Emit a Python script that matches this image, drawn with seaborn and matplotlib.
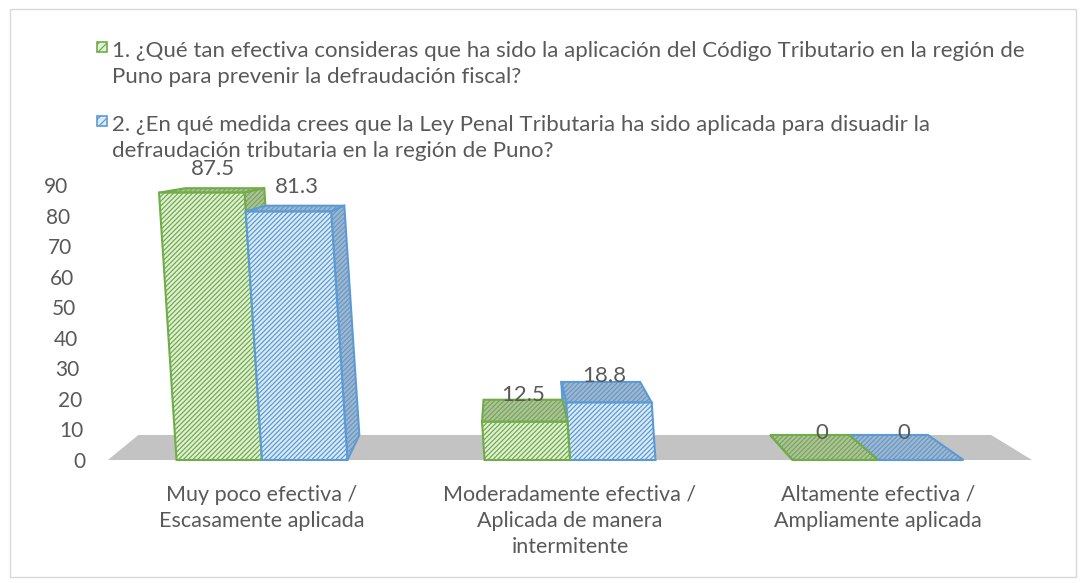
import matplotlib
matplotlib.use("Agg")
import matplotlib.pyplot as plt
from matplotlib.patches import Polygon, Rectangle
from matplotlib.transforms import Affine2D, ScaledTranslation
import pandas as pd
import seaborn as sns

# data
categories = [
    "Muy poco efectiva /\nEscasamente aplicada",
    "Moderadamente efectiva /\nAplicada de manera\nintermitente",
    "Altamente efectiva /\nAmpliamente aplicada",
]
series_names = [
    "1. ¿Qué tan efectiva consideras que ha sido la aplicación del Código Tributario en la región de\nPuno para prevenir la defraudación fiscal?",
    "2. ¿En qué medida crees que la Ley Penal Tributaria ha sido aplicada para disuadir la\ndefraudación tributaria en la región de Puno?",
]
codigo_tributario = [87.5, 12.5, 0]
ley_penal = [81.3, 18.8, 0]
y_ticks = [0, 10, 20, 30, 40, 50, 60, 70, 80, 90]

edge_colors = ["#70ad47", "#5b9bd5"]
front_colors = ["#e2f0d9", "#ddebf7"]
side_colors = ["#b2bfa5", "#a7b6c7"]
text_color = "#595959"

df = pd.DataFrame({
    "cat": categories * 2,
    "serie": [series_names[0]] * 3 + [series_names[1]] * 3,
    "valor": codigo_tributario + ley_penal,
})

sns.set_theme(style="white")
plt.rcParams["font.family"] = ["Lato", "DejaVu Sans"]
plt.rcParams["hatch.linewidth"] = 0.9

W, H = 1082, 583
fig = plt.figure(figsize=(W / 100, H / 100), dpi=100)
fig.patches.append(Rectangle((0.009, 0.01), 0.985, 0.975, transform=fig.transFigure,
                             fill=False, edgecolor="#d9d9d9", linewidth=1.0))
ax = fig.add_axes([0.0998, 0.211, 0.854, 0.4717])

sns.barplot(data=df, x="cat", y="valor", hue="serie", hue_order=series_names,
            palette=front_colors, width=0.555, ax=ax, legend=False)

ax.set_xlim(-0.5, 2.5)
ax.set_ylim(0, 90)

# simple perspective: back face = front face shrunk towards a vanishing point,
# and the whole scene leans a little to the left as it rises
vx, vy, s = 0.847, 106.3, 0.923
lean = 0.2 / 308  # x data units per y unit
shear = Affine2D.from_values(1, 0, -lean, 1, 0, 0)
T = shear + ax.transData


def back(px, py):
    return (vx + s * (px - vx), vy + s * (py - vy))


# floor
x0, x1 = ax.get_xlim()
ax.add_patch(Polygon([(x0, 0), (x1, 0), back(x1, 0), back(x0, 0)], closed=True,
                     facecolor="#c3c3c3", edgecolor="none", zorder=0.5, clip_on=False))

bars = []
for k, cont in enumerate(ax.containers):
    for rect in cont:
        bars.append((rect, k))
# draw the bar furthest from the vanishing point first
bars.sort(key=lambda b: -abs(b[0].get_x() + b[0].get_width() / 2 - vx))

labels = []
for i, (rect, k) in enumerate(bars):
    bx0 = rect.get_x()
    bx1 = bx0 + rect.get_width()
    h = rect.get_height()
    z = 2 + 2 * i
    faces = [[(bx0, h), (bx1, h), back(bx1, h), back(bx0, h)]]
    if bx1 < vx:
        faces.append([(bx1, 0), (bx1, h), back(bx1, h), back(bx1, 0)])
    if bx0 > vx:
        faces.append([(bx0, 0), (bx0, h), back(bx0, h), back(bx0, 0)])
    for f in faces:
        ax.add_patch(Polygon(f, closed=True, facecolor=side_colors[k], edgecolor=edge_colors[k],
                             hatch="///////", linewidth=1.5, zorder=z, clip_on=False))
    rect.set_facecolor(front_colors[k])
    rect.set_edgecolor(edge_colors[k])
    rect.set_hatch("///////")
    rect.set_linewidth(1.5)
    rect.set_zorder(z + 1)
    rect.set_clip_on(False)
    cx = bx0 + rect.get_width() / 2
    bcx, btop = back(cx, h)
    labels.append(((cx + bcx) / 2, h, btop))

for p in ax.patches:
    p.set_transform(T)

for cx, h, top in labels:
    ax.annotate(f"{h:g}", xy=(cx - lean * top, top), xytext=(0, (2 + 0.2 * h) * 0.72),
                textcoords="offset points", ha="center", va="center",
                fontsize=16, color=text_color, zorder=100)

ax.set_yticks(y_ticks)
ax.tick_params(axis="y", labelsize=15, labelcolor=text_color, length=0, pad=16)
ax.tick_params(axis="x", labelsize=15.5, labelcolor=text_color, length=0, pad=18)
for lab, v in zip(ax.get_yticklabels(), y_ticks):
    lab.set_transform(lab.get_transform() + ScaledTranslation(-0.2 * v / 100, 0, fig.dpi_scale_trans))
for lab in ax.get_xticklabels():
    lab.set_linespacing(1.36)
    lab.set_va("top")
ax.set_xlabel("")
ax.set_ylabel("")
sns.despine(ax=ax, left=True, bottom=True)
ax.set_facecolor("none")

# legend: small hatched square beside the first line of each wrapped entry
line_gap = 29
for k, (name, base) in enumerate(zip(series_names, [54, 128])):
    fig.patches.append(Rectangle((97 / W, 1 - (base - 2) / H), 10 / W, 10 / H,
                                 transform=fig.transFigure, facecolor=front_colors[k],
                                 edgecolor=edge_colors[k], hatch="////", linewidth=1.2))
    # multi-line text anchored on the baseline of its last line
    last_base = base + line_gap * name.count("\n")
    fig.text(112 / W, 1 - last_base / H, name, ha="left", va="baseline", fontsize=16,
             color=text_color, linespacing=1.36)

fig.savefig("out.png", dpi=100)
